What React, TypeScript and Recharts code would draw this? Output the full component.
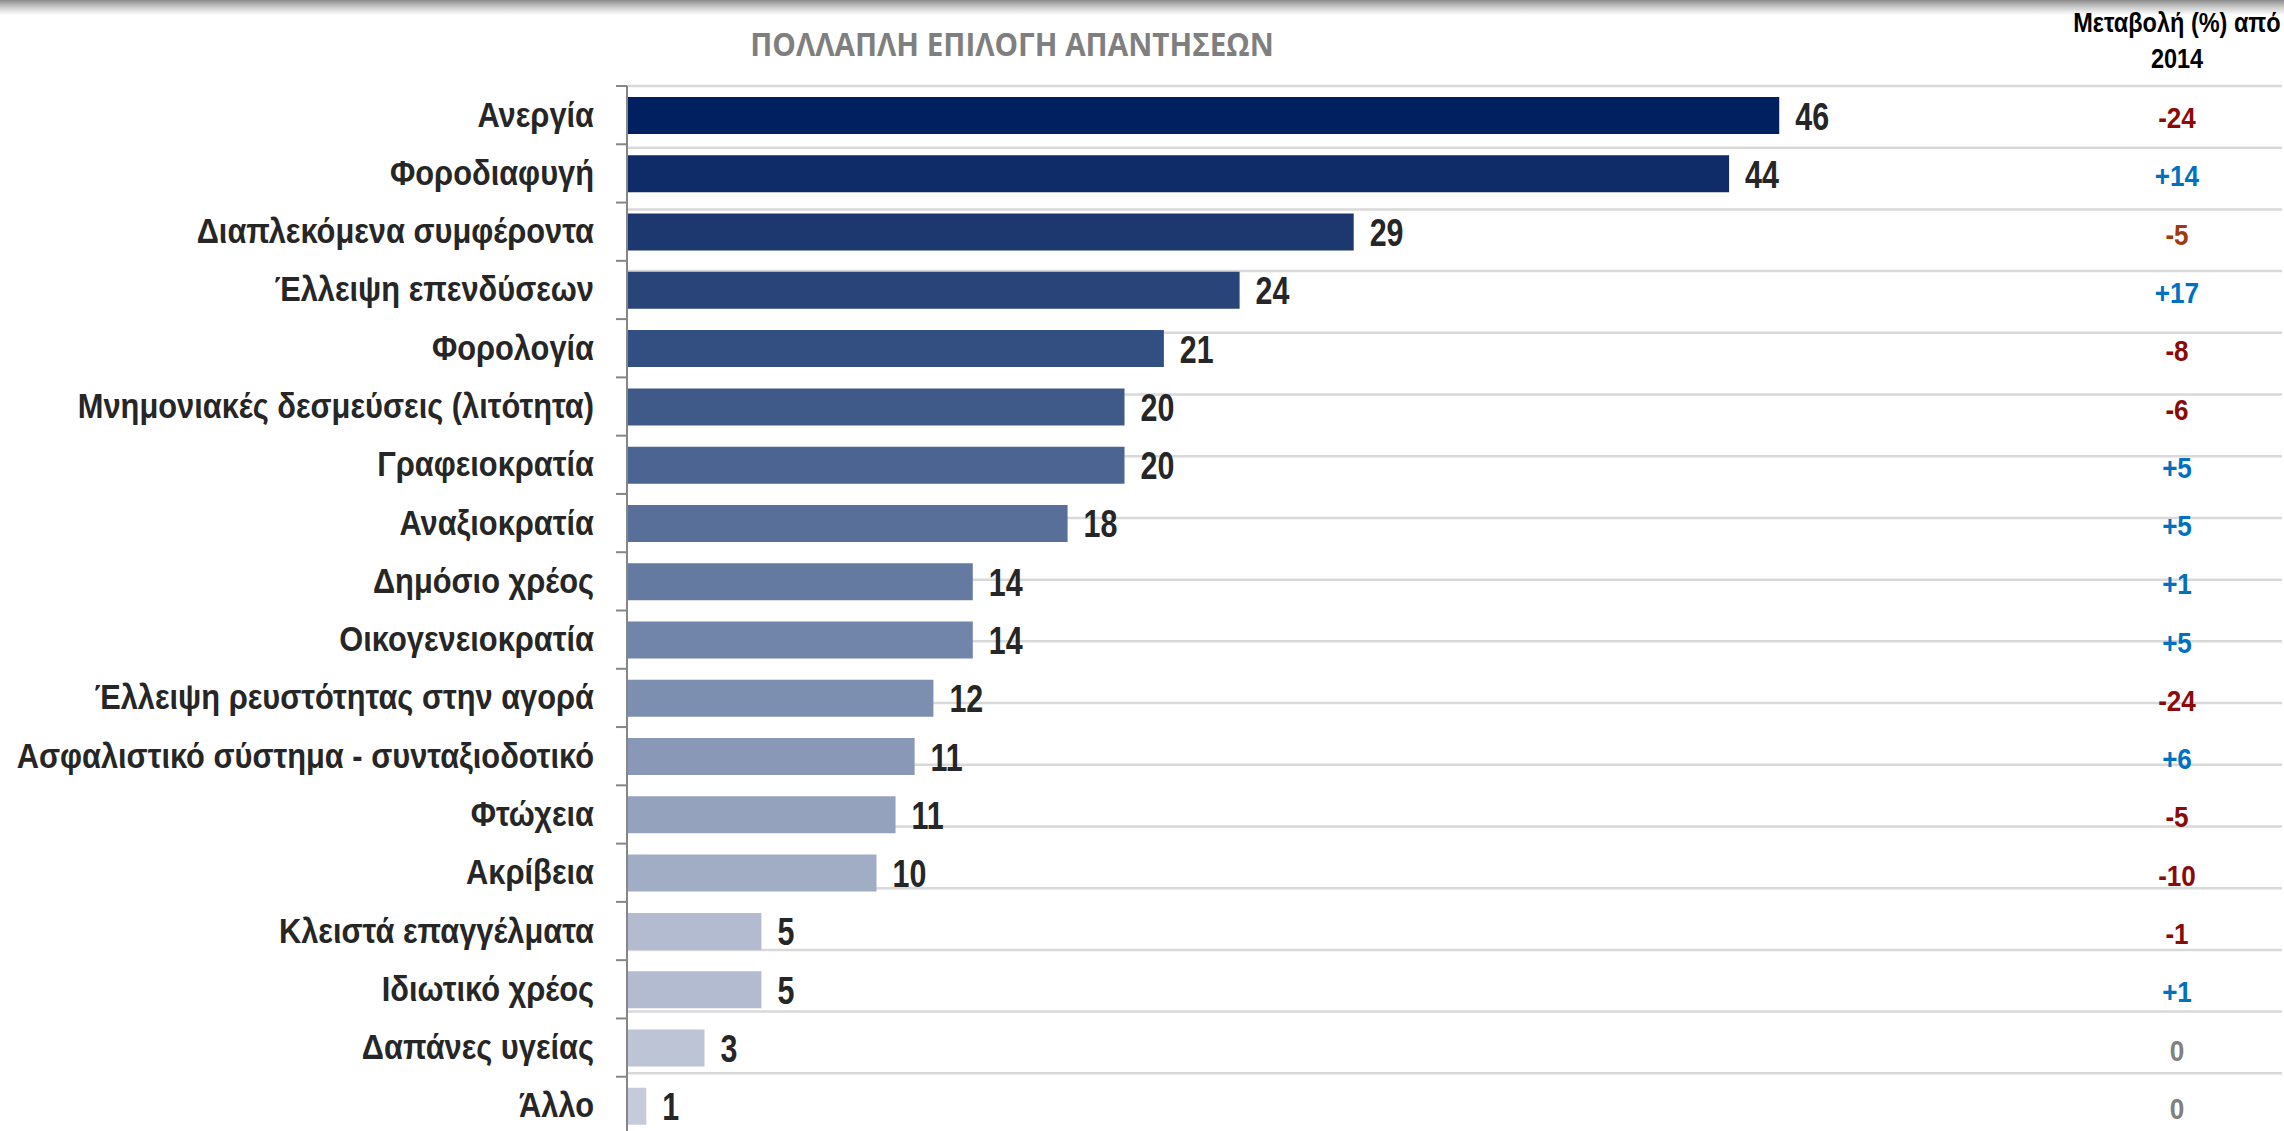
import React from 'react';
import { BarChart, Bar, XAxis, YAxis, CartesianGrid, Cell, LabelList } from 'recharts';

const title = 'ΠΟΛΛΑΠΛΗ ΕΠΙΛΟΓΗ ΑΠΑΝΤΗΣΕΩΝ';
const changeHeader = ['Μεταβολή (%) από', '2014'];

const categories = [
  'Ανεργία',
  'Φοροδιαφυγή',
  'Διαπλεκόμενα συμφέροντα',
  'Έλλειψη επενδύσεων',
  'Φορολογία',
  'Μνημονιακές δεσμεύσεις (λιτότητα)',
  'Γραφειοκρατία',
  'Αναξιοκρατία',
  'Δημόσιο χρέος',
  'Οικογενειοκρατία',
  'Έλλειψη ρευστότητας στην αγορά',
  'Ασφαλιστικό σύστημα - συνταξιοδοτικό',
  'Φτώχεια',
  'Ακρίβεια',
  'Κλειστά επαγγέλματα',
  'Ιδιωτικό χρέος',
  'Δαπάνες υγείας',
  'Άλλο',
];

// bar lengths (labels show them rounded)
const values = [45.95, 43.95, 28.98, 24.43, 21.41, 19.84, 19.84, 17.57, 13.79, 13.79, 12.22, 11.47, 10.71, 9.95, 5.36, 5.36, 3.09, 0.77];

const changeLabels = ['-24', '+14', '-5', '+17', '-8', '-6', '+5', '+5', '+1', '+5', '-24', '+6', '-5', '-10', '-1', '+1', '0', '0'];

const xDomain: [number, number] = [0, 66];

// styles
const barColors = [
  '#002060', '#0F2B68', '#1C386F', '#284478', '#334F81', '#3F5988',
  '#4B6491', '#586F99', '#657AA1', '#7184A9', '#7D8FB1', '#8998B7',
  '#95A2BE', '#A1ACC5', '#B2BBCF', '#B2BBCF', '#BDC4D6', '#C5CBDB',
];
const changeColors = [
  '#8B0A0A', '#0070C0', '#A0390E', '#0070C0', '#8B0A0A', '#8B0A0A',
  '#0070C0', '#0070C0', '#0070C0', '#0070C0', '#8B0A0A', '#0070C0',
  '#8B0A0A', '#8B0A0A', '#8B0A0A', '#0070C0', '#808080', '#808080',
];

const data = categories.map((name, i) => ({ name, value: values[i], change: changeLabels[i] }));
const boundaryTicks = categories.slice(1).map((_, i) => i + 1);

const SANS = '"Liberation Sans", Arial, sans-serif';
const LABEL_GAP = 33;

const CategoryTick = (props: any) => {
  const { x, y, payload, height, visibleTicksCount } = props;
  let half = payload && typeof payload.offset === 'number' ? payload.offset : 0;
  if (!(half > 4) && Number(height) > 0 && Number(visibleTicksCount) > 0) {
    half = Number(height) / Number(visibleTicksCount) / 2;
  }
  const axisX = x + LABEL_GAP;
  return (
    <g>
      <line x1={axisX - 11} x2={axisX} y1={y - half} y2={y - half} stroke="#868686" strokeWidth={2} />
      <text
        transform={`translate(${x},${y}) scale(0.88,1)`}
        textAnchor="end"
        dy={11.5}
        fontFamily={SANS}
        fontWeight="bold"
        fontSize={35}
        fill="#262626"
      >
        {payload.value}
      </text>
    </g>
  );
};

const ChangeTick = (props: any) => {
  const { x, y, payload } = props;
  const i = categories.indexOf(payload.value);
  return (
    <text
      transform={`translate(${x},${y}) scale(0.9,1)`}
      textAnchor="middle"
      dy={13}
      fontFamily={SANS}
      fontWeight="bold"
      fontSize={29}
      fill={changeColors[i]}
    >
      {changeLabels[i]}
    </text>
  );
};

const ValueLabel = (props: any) => {
  const { x, y, width, height, value } = props;
  const tx = Number(x) + Number(width) + 16;
  const ty = Number(y) + Number(height) / 2;
  return (
    <text
      transform={`translate(${tx},${ty}) scale(0.8,1)`}
      dy={14}
      fontFamily={SANS}
      fontWeight="bold"
      fontSize={38}
      fill="#262626"
    >
      {Math.round(Number(value))}
    </text>
  );
};

export default function App() {
  return (
    <div style={{ position: 'absolute', left: 0, top: 0, width: 2284, height: 1131, overflow: 'hidden', background: '#fff' }}>
      <div
        style={{
          position: 'absolute', left: 0, top: 0, width: 2284, height: 15,
          background: 'linear-gradient(to bottom, #8a8a8a 0%, #c8c8c8 45%, #ffffff 100%)',
        }}
      />
      <BarChart
        layout="vertical"
        width={2284}
        height={1140}
        data={data}
        margin={{ top: 86, right: 2, bottom: 5, left: 0 }}
      >
        <XAxis type="number" domain={xDomain} hide allowDataOverflow />
        <YAxis yAxisId="grid" type="number" domain={[0, categories.length]} ticks={boundaryTicks} interval={0} hide />
        <CartesianGrid yAxisId="grid" vertical={false} stroke="#D9D9D9" strokeWidth={2.5} />
        <YAxis
          yAxisId="cat"
          type="category"
          dataKey="name"
          width={627}
          tickSize={0}
          tickMargin={LABEL_GAP}
          tickLine={false}
          axisLine={{ stroke: '#868686', strokeWidth: 2 }}
          tick={<CategoryTick />}
          interval={0}
        />
        <YAxis
          yAxisId="chg"
          orientation="right"
          type="category"
          dataKey="name"
          mirror
          width={1}
          tickSize={0}
          tickMargin={105}
          axisLine={false}
          tickLine={false}
          tick={<ChangeTick />}
          interval={0}
        />
        <Bar yAxisId="cat" dataKey="value" barSize={37} isAnimationActive={false}>
          {data.map((d, i) => (
            <Cell key={d.name} fill={barColors[i]} />
          ))}
          <LabelList dataKey="value" content={<ValueLabel />} />
        </Bar>
      </BarChart>
      <svg width={2284} height={90} style={{ position: 'absolute', left: 0, top: 0, pointerEvents: 'none' }}>
        <text
          transform="translate(1012,56) scale(0.927,1)"
          textAnchor="middle"
          fontFamily='"Open Sans", sans-serif'
          fontWeight="bold"
          fontSize={32}
          fill="#7F7F7F"
        >
          {title}
        </text>
        <text transform="translate(2177,32) scale(0.87,1)" textAnchor="middle" fontFamily={SANS} fontWeight="bold" fontSize={27} fill="#000">
          {changeHeader[0]}
        </text>
        <text transform="translate(2177,68) scale(0.87,1)" textAnchor="middle" fontFamily={SANS} fontWeight="bold" fontSize={27} fill="#000">
          {changeHeader[1]}
        </text>
      </svg>
    </div>
  );
}
